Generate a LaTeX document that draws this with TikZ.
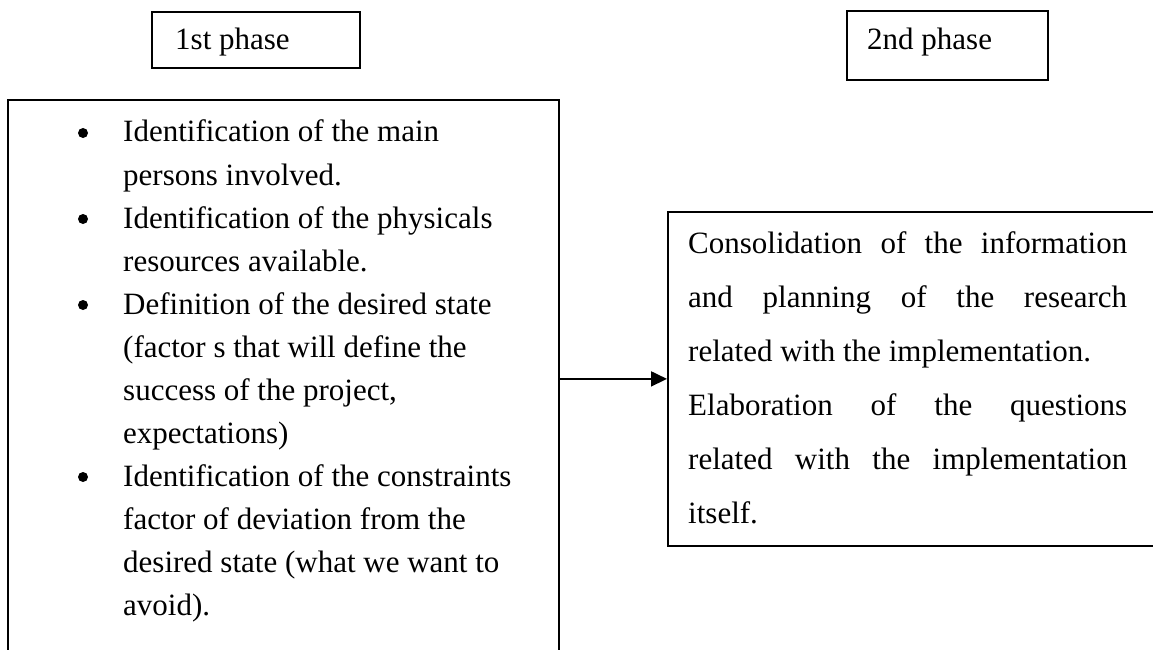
\documentclass[tikz,border=0pt]{standalone}
\usepackage{fontspec}
\setmainfont{Liberation Serif}
\usetikzlibrary{arrows.meta}
\begin{document}
\begin{tikzpicture}[x=1pt,y=-1pt,
  box/.style={draw=black, line width=1.8pt, rectangle, inner sep=0pt, anchor=north west},
  txt/.style={inner sep=0pt, anchor=base west, font=\fontsize{31pt}{37pt}\selectfont},
  bul/.style={circle, fill=black, inner sep=0pt, minimum size=10pt},
  arr/.style={line width=1.8pt, -{Triangle[length=16pt,width=15pt]}}]
\useasboundingbox (0,0) rectangle (1153,650);
% phase boxes
\node[box, minimum width=208pt, minimum height=56pt] (p1box) at (151,11) {};
\node[txt] (p1) at (175,50) {1st phase};
\node[box, minimum width=201pt, minimum height=69pt] (p2box) at (846,10) {};
\node[txt] (p2) at (867,50) {2nd phase};
% left box
\node[box, minimum width=551pt, minimum height=563pt] (lbox) at (7,99) {};
\foreach \t [count=\i from 0] in {{Identification of the main},{persons involved.},{Identification of the physicals},{resources available.},{Definition of the desired state},{(factor s that will define the},{success of the project,},{expectations)},{Identification of the constraints},{factor of deviation from the},{desired state (what we want to},{avoid).}}
  \node[txt] (l\i) at (123,142+43*\i) {\t};
\foreach \k in {0,2,4,8}
  \node[bul] (b\k) at (83,133+43*\k) {};
% right box
\node[box, minimum width=500pt, minimum height=334pt] (rbox) at (667,211) {};
\node[txt] (r0) at (688,253) {\makebox[439pt][s]{Consolidation of the information}};
\node[txt] (r1) at (688,307) {\makebox[439pt][s]{and planning of the research}};
\node[txt] (r2) at (688,361) {related with the implementation.};
\node[txt] (r3) at (688,415) {\makebox[439pt][s]{Elaboration of the questions}};
\node[txt] (r4) at (688,469) {\makebox[439pt][s]{related with the implementation}};
\node[txt] (r5) at (688,523) {itself.};
% arrow
\draw[arr] (lbox.east |- rbox.west) -- (rbox.west);
\end{tikzpicture}
\end{document}
